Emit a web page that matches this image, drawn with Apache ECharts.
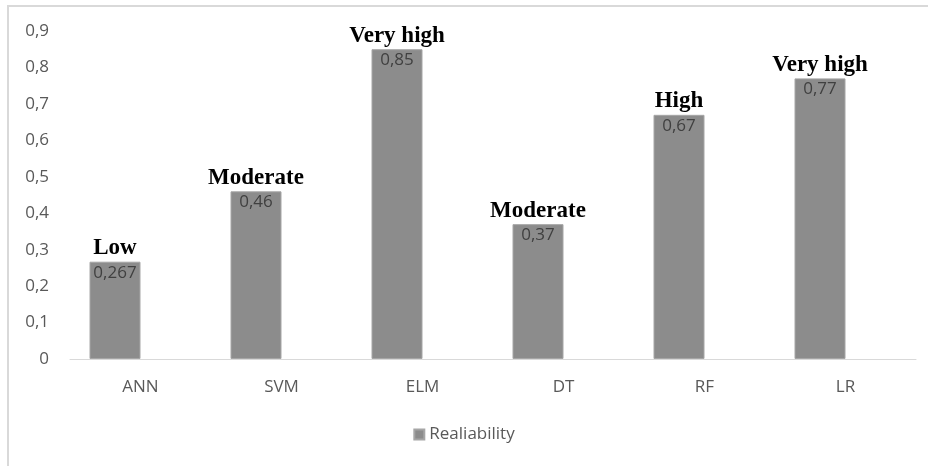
<!DOCTYPE html>
<html>
<head>
<meta charset="utf-8">
<script src="https://cdn.jsdelivr.net/npm/echarts@6/dist/echarts.min.js"></script>
<style>
  html, body { margin: 0; padding: 0; background: #fff; }
  #chart { width: 928px; height: 466px; }
</style>
</head>
<body>
<div id="chart"></div>
<script>
// data
var models = ['ANN', 'SVM', 'ELM', 'DT', 'RF', 'LR'];
var reliability = [0.267, 0.46, 0.85, 0.37, 0.67, 0.77];
var ratings = ['Low', 'Moderate', 'Very high', 'Moderate', 'High', 'Very high'];

function comma(v) {
  return String(v).replace('.', ',');
}

var chart = echarts.init(document.getElementById('chart'));
chart.setOption({
  animation: false,
  textStyle: { fontFamily: 'Open Sans' },
  graphic: [{
    type: 'rect',
    silent: true,
    shape: { x: 8, y: 6, width: 940, height: 480 },
    style: { fill: 'none', stroke: '#d9d9d9', lineWidth: 2 }
  }],
  grid: { left: 70, right: 12, top: 31, bottom: 107 },
  legend: {
    data: ['Realiability'],
    bottom: 18,
    left: 'center',
    icon: 'rect',
    itemWidth: 10,
    itemHeight: 10,
    itemGap: 6,
    textStyle: { color: '#595959', fontSize: 17, fontFamily: 'Open Sans' }
  },
  xAxis: {
    type: 'category',
    data: models,
    axisTick: { show: false },
    axisLine: { lineStyle: { color: '#d9d9d9', width: 1 } },
    axisLabel: { color: '#595959', fontSize: 17, margin: 20 }
  },
  yAxis: {
    type: 'value',
    min: 0,
    max: 0.9,
    interval: 0.1,
    splitLine: { show: false },
    axisLine: { show: false },
    axisTick: { show: false },
    axisLabel: {
      color: '#595959',
      fontSize: 17,
      margin: 21,
      formatter: function (v) { return comma(Math.round(v * 10) / 10); }
    }
  },
  series: [{
    name: 'Realiability',
    type: 'bar',
    data: reliability,
    barWidth: 51,
    barGap: '0%',
    itemStyle: { color: '#8c8c8c', borderColor: '#a6a6a6', borderWidth: 1 },
    label: {
      show: true,
      position: 'top',
      distance: 0,
      offset: [0, 22],
      formatter: function (p) {
        return '{r|' + ratings[p.dataIndex] + '}\n{v|' + comma(p.value) + '}';
      },
      rich: {
        r: { fontFamily: 'Liberation Serif', fontWeight: 'bold', fontSize: 23, lineHeight: 27, color: '#000' },
        v: { fontFamily: 'Open Sans', fontSize: 17, lineHeight: 22, color: '#404040' }
      }
    }
  }, {
    name: 'spacer',
    type: 'bar',
    barWidth: 51,
    data: models.map(function () { return null; })
  }]
});
</script>
</body>
</html>
